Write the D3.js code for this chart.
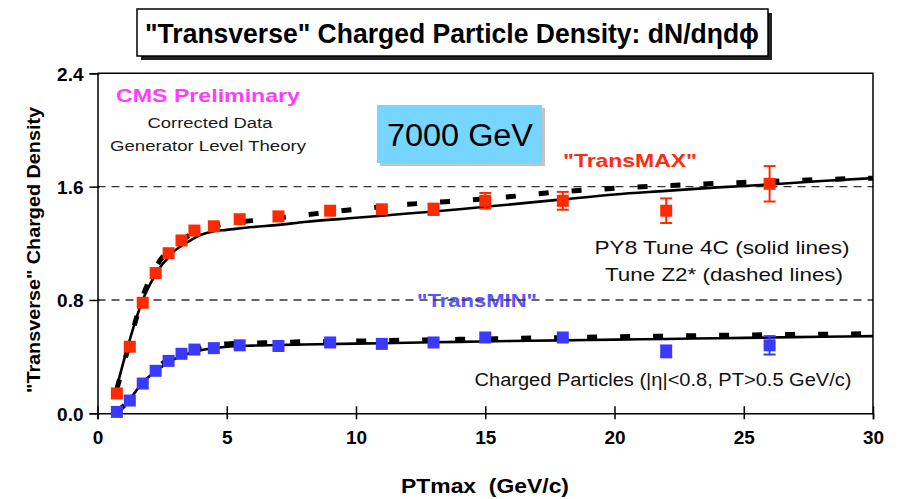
<!DOCTYPE html>
<html>
<head>
<meta charset="utf-8">
<script src="https://cdn.jsdelivr.net/npm/d3@7"></script>
<style>
  body { margin: 0; background: #fff; }
  svg { display: block; }
  .narrow { font-family: "Liberation Sans Narrow", "Arial Narrow", "Liberation Sans", Arial, sans-serif; font-weight: bold; }
  .sans { font-family: "Liberation Sans", Arial, sans-serif; }
</style>
</head>
<body>
<svg id="chart" width="899" height="499"></svg>
<script>
// Measured data bins (PTmax, GeV/c)
const ptBins = [0.75, 1.25, 1.75, 2.25, 2.75, 3.25, 3.75, 4.5, 5.5, 7, 9, 11, 13, 15, 18, 22, 26];
const transMax = [0.14, 0.47, 0.78, 0.99, 1.13, 1.22, 1.29, 1.32, 1.37, 1.39, 1.43, 1.44, 1.44, 1.50, 1.50, 1.43, 1.62];
const transMaxErr = [0, 0, 0, 0, 0, 0, 0, 0, 0, 0, 0, 0, 0.04, 0.055, 0.063, 0.087, 0.125];
const transMin = [0.01, 0.09, 0.21, 0.30, 0.37, 0.42, 0.45, 0.46, 0.48, 0.475, 0.50, 0.49, 0.50, 0.535, 0.535, 0.437, 0.48];
const transMinErr = [0, 0, 0, 0, 0, 0, 0, 0, 0, 0, 0, 0, 0, 0, 0, 0.042, 0.065];

// Generator curves: PY8 Tune 4C (solid) and Tune Z2* (dashed)
const thPt = [0.75, 1.0, 1.25, 1.5, 1.75, 2.0, 2.25, 2.5, 2.75, 3.0, 3.5, 4.0, 4.5, 5, 6, 7, 8, 10, 12, 14, 16, 18, 20, 22, 24, 26, 28, 30];
const py8Max = [0.19, 0.36, 0.52, 0.67, 0.80, 0.90, 0.98, 1.05, 1.10, 1.15, 1.21, 1.26, 1.285, 1.295, 1.315, 1.33, 1.35, 1.38, 1.41, 1.44, 1.475, 1.51, 1.545, 1.57, 1.595, 1.615, 1.64, 1.66];
const z2Max = [0.17, 0.34, 0.50, 0.67, 0.82, 0.94, 1.03, 1.10, 1.15, 1.19, 1.25, 1.29, 1.32, 1.34, 1.36, 1.38, 1.40, 1.44, 1.475, 1.50, 1.53, 1.565, 1.588, 1.607, 1.623, 1.637, 1.65, 1.66];
const py8Min = [0.01, 0.05, 0.10, 0.16, 0.22, 0.26, 0.30, 0.33, 0.36, 0.385, 0.42, 0.445, 0.46, 0.47, 0.478, 0.482, 0.486, 0.492, 0.498, 0.504, 0.51, 0.515, 0.52, 0.525, 0.53, 0.535, 0.54, 0.545];
const z2Min = [0.01, 0.05, 0.10, 0.16, 0.22, 0.27, 0.31, 0.35, 0.38, 0.40, 0.43, 0.46, 0.48, 0.49, 0.495, 0.50, 0.505, 0.51, 0.516, 0.522, 0.528, 0.535, 0.54, 0.545, 0.55, 0.555, 0.558, 0.562];

const xTicks = [0, 5, 10, 15, 20, 25, 30];
const yTicks = [0.0, 0.8, 1.6, 2.4];
const refLevels = [0.8, 1.6];

const svg = d3.select("#chart");
const plotL = 97.5, plotR = 873, plotT = 73.3, plotB = 413.3;
const x = d3.scaleLinear().domain([0, 30]).range([plotL, plotR]);
const y = d3.scaleLinear().domain([0, 2.4]).range([plotB, plotT]);

// Text helper: fixed width so the label spans its intended extent
function label(cx, by, txt, size, opts = {}) {
  const t = svg.append("text").attr("class", opts.cls || "sans")
    .attr("x", cx).attr("y", by).attr("text-anchor", "middle")
    .attr("font-size", size).attr("fill", opts.fill || "#111").text(txt);
  if (opts.bold) t.attr("font-weight", "bold");
  if (opts.width) t.attr("textLength", opts.width).attr("lengthAdjust", "spacingAndGlyphs");
  if (opts.family) t.attr("font-family", opts.family);
  return t;
}

// Title box with drop shadow
svg.append("rect").attr("x", 141).attr("y", 13).attr("width", 631).attr("height", 47).attr("fill", "#222");
svg.append("rect").attr("x", 137).attr("y", 9).attr("width", 631).attr("height", 47)
  .attr("fill", "#fff").attr("stroke", "#000").attr("stroke-width", 1.5);
label(452, 43, "\"Transverse\" Charged Particle Density: dN/dηdϕ", 28, { cls: "narrow", fill: "#000", width: 614 });

// Annotations
label(208, 102, "CMS Preliminary", 19, { bold: true, fill: "#ff3cff", width: 184 });
label(210, 128, "Corrected Data", 15.5, { fill: "#1a1a1a", width: 125 });
label(208, 151, "Generator Level Theory", 15.5, { fill: "#1a1a1a", width: 196 });

svg.append("rect").attr("x", 380).attr("y", 108).attr("width", 165).attr("height", 58)
  .attr("fill", "#999").attr("opacity", 0.6);
svg.append("rect").attr("x", 377).attr("y", 105).attr("width", 165).attr("height", 58).attr("fill", "#76d6ff");
label(460, 146, "7000 GeV", 31, { fill: "#000", family: "Lato, 'DejaVu Sans', sans-serif", width: 146 });

label(630, 167, "\"TransMAX\"", 19, { bold: true, fill: "#ff2a10", width: 134 });
label(722, 254, "PY8 Tune 4C (solid lines)", 19, { width: 255 });
label(724, 281, "Tune Z2* (dashed lines)", 19, { width: 238 });
label(477, 307, "\"TransMIN\"", 18, { bold: true, fill: "#5a55ff", width: 120 });
label(663, 386, "Charged Particles (|η|<0.8, PT>0.5 GeV/c)", 18, { width: 377 });

// Reference dashed levels
svg.selectAll("line.ref").data(refLevels).enter().append("line")
  .attr("x1", plotL).attr("x2", plotR).attr("y1", d => y(d)).attr("y2", d => y(d))
  .attr("stroke", "#333").attr("stroke-width", 1.4).attr("stroke-dasharray", "8,6");

// Frame (top and right sides)
svg.append("path").attr("d", `M${plotL},${plotT}H${plotR}V${plotB}`)
  .attr("fill", "none").attr("stroke", "#000").attr("stroke-width", 1.5);

// Axes
const xAxis = svg.append("g").attr("transform", `translate(0,${plotB})`)
  .call(d3.axisBottom(x).tickValues(xTicks).tickSize(6).tickFormat(d3.format("d")));
xAxis.selectAll(".tick line").attr("y1", -7).attr("y2", 6);
const yAxis = svg.append("g").attr("transform", `translate(${plotL},0)`)
  .call(d3.axisLeft(y).tickValues(yTicks).tickSize(8).tickFormat(d3.format(".1f")));
yAxis.selectAll(".tick line").attr("x1", -8).attr("x2", 2);
[xAxis, yAxis].forEach(a => {
  a.select(".domain").attr("stroke", "#000").attr("stroke-width", 1.5);
  a.selectAll(".tick line").attr("stroke", "#000").attr("stroke-width", 1.5);
  a.selectAll("text").attr("class", "narrow").attr("font-size", 19).attr("fill", "#000");
});
xAxis.selectAll("text").attr("y", 17);
yAxis.selectAll("text").attr("x", -14).attr("dy", "0.36em");

label(485, 493, "PTmax  (GeV/c)", 20, { cls: "narrow", fill: "#000", width: 168 }).attr("xml:space", "preserve");
svg.append("text").attr("class", "narrow").attr("transform", "translate(40,250) rotate(-90)")
  .attr("text-anchor", "middle").attr("font-size", 18.5).attr("fill", "#000")
  .attr("textLength", 286).attr("lengthAdjust", "spacingAndGlyphs")
  .text("\"Transverse\" Charged Density");

// Theory curves
const line = d3.line().x(d => x(d[0])).y(d => y(d[1])).curve(d3.curveMonotoneX);
const pairs = arr => thPt.map((p, i) => [p, arr[i]]);
[py8Max, py8Min].forEach(arr => {
  svg.append("path").attr("d", line(pairs(arr))).attr("fill", "none")
    .attr("stroke", "#000").attr("stroke-width", 2.6);
});
[z2Max, z2Min].forEach(arr => {
  svg.append("path").attr("d", line(pairs(arr))).attr("fill", "none")
    .attr("stroke", "#000").attr("stroke-width", 5).attr("stroke-dasharray", "10,23");
});

// Data points with error bars
function drawSeries(vals, errs, color) {
  const g = svg.append("g");
  const pts = ptBins.map((p, i) => ({ p, v: vals[i], e: errs[i] }));
  const withErr = pts.filter(d => d.e > 0);
  g.selectAll("line.err").data(withErr).enter().append("line")
    .attr("x1", d => x(d.p)).attr("x2", d => x(d.p))
    .attr("y1", d => y(d.v + d.e)).attr("y2", d => y(d.v - d.e))
    .attr("stroke", color).attr("stroke-width", 2);
  ["hi", "lo"].forEach(k => {
    g.selectAll("line.cap" + k).data(withErr).enter().append("line")
      .attr("x1", d => x(d.p) - 6).attr("x2", d => x(d.p) + 6)
      .attr("y1", d => y(k === "hi" ? d.v + d.e : d.v - d.e))
      .attr("y2", d => y(k === "hi" ? d.v + d.e : d.v - d.e))
      .attr("stroke", color).attr("stroke-width", 2);
  });
  g.selectAll("rect").data(pts).enter().append("rect")
    .attr("x", d => x(d.p) - 6).attr("y", d => y(d.v) - 6)
    .attr("width", 12).attr("height", 12).attr("fill", color);
}
drawSeries(transMax, transMaxErr, "#ff2a00");
drawSeries(transMin, transMinErr, "#3a3aff");
</script>
</body>
</html>
